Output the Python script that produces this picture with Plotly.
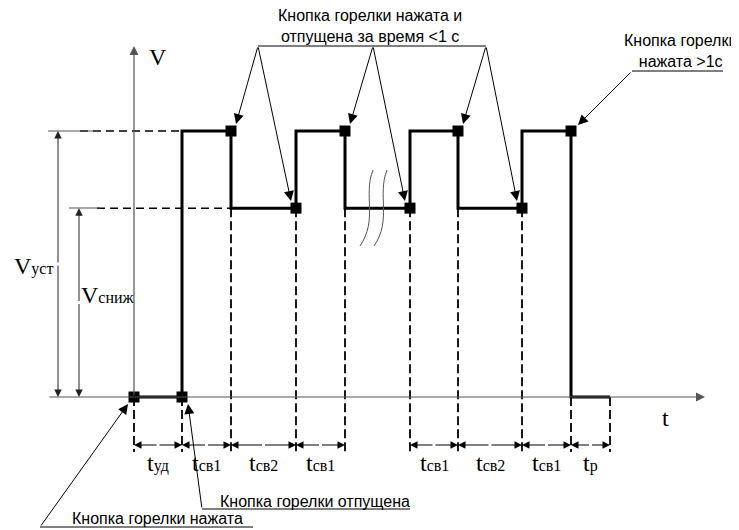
import plotly.graph_objects as go

# ---- diagram data -------------------------------------------------------
# time axis (arbitrary units, 0 = moment the torch button is pressed)
t_marks = [0, 48, 97, 162, 211, 276, 324, 388, 437, 476]
# voltage levels as a fraction of V_уст
V_UST = 1.0
V_SNIZH = 0.71
# level of the signal on each interval between consecutive t_marks
levels = [0, V_UST, V_SNIZH, V_UST, V_SNIZH, V_UST, V_SNIZH, V_UST, 0]
# event markers (black squares)
square_t = [0, 48, 97, 162, 211, 276, 324, 388, 437]
square_v = [0, 0, V_UST, V_SNIZH, V_UST, V_SNIZH, V_UST, V_SNIZH, V_UST]
# where each dashed projection line starts
dash_top = [0, 0, V_SNIZH, V_SNIZH, V_SNIZH, V_SNIZH, V_SNIZH, V_SNIZH, 0, 0]
# subscript of the interval labels (None = interval across the break)
interval_labels = ["уд", "св1", "св2", "св1", None, "св1", "св2", "св1", "р"]

# ---- canvas mapping (diagram units <-> page pixels) ---------------------
W, H = 739, 530
BODY = 8  # default page margin around the figure
PX0, PY0, KY = 134, 397, 266


def X(px):
    return px - PX0


def Y(py):
    return (PY0 - py) / KY


SERIF = "Liberation Serif"
SANS = "Liberation Sans"
BLACK = "#000000"
GRAY = "#555555"

fig = go.Figure()

# dashed projection lines
dx, dy = [], []
for t, v in zip(t_marks, dash_top):
    dx += [t, t, None]
    dy += [v, Y(452), None]
fig.add_trace(go.Scatter(x=dx, y=dy, mode="lines",
                         line=dict(color=BLACK, width=1.8, dash="9px,4px"),
                         hoverinfo="skip"))

# horizontal dashed projections of the two levels
fig.add_trace(go.Scatter(x=[X(80), t_marks[1], None, X(97), t_marks[2]],
                         y=[V_UST, V_UST, None, V_SNIZH, V_SNIZH],
                         mode="lines",
                         line=dict(color=BLACK, width=1.5, dash="8px,5px"),
                         hoverinfo="skip"))

# signal
fig.add_trace(go.Scatter(x=t_marks, y=levels + [levels[-1]], mode="lines",
                         line=dict(color=BLACK, width=3, shape="hv"),
                         hoverinfo="skip"))

# event squares
fig.add_trace(go.Scatter(x=square_t, y=square_v, mode="markers",
                         marker=dict(symbol="square", size=11, color=BLACK),
                         hoverinfo="skip"))

shapes = []


def seg(x0, y0, x1, y1, color=BLACK, width=1):
    shapes.append(dict(type="line", xref="x", yref="y",
                       x0=X(x0), y0=Y(y0), x1=X(x1), y1=Y(y1),
                       line=dict(color=color, width=width)))


# extension lines for the V dimensions
seg(48, 131, 100, 131, GRAY, 1)
seg(69, 208, 100, 208, GRAY, 1)

# leader lines (no heads)
seg(258, 46, 486, 46)
seg(632, 71, 723, 71)
seg(202, 509, 410, 509)
seg(40, 527, 253, 527)

# break symbol (two wavy lines)
for x0 in (373, 387):
    p = (f"M {X(x0)},{Y(170)} C {X(x0 - 10)},{Y(195)} {X(x0 + 5)},{Y(220)} "
         f"{X(x0 - 13)},{Y(246)}")
    shapes.append(dict(type="path", xref="x", yref="y", path=p,
                       line=dict(color=GRAY, width=1)))

annotations = []


def arrow(px_from, py_from, px_to, py_to, color=BLACK, width=1, size=1.6):
    annotations.append(dict(x=X(px_to), y=Y(py_to), ax=X(px_from), ay=Y(py_from),
                            xref="x", yref="y", axref="x", ayref="y",
                            text="", showarrow=True, arrowhead=2,
                            arrowsize=size, arrowwidth=width, arrowcolor=color,
                            standoff=0, startstandoff=0))


# axes
arrow(134, 397, 134, 46, GRAY, 1.2, 1.5)
arrow(48, 397, 705, 397, GRAY, 1.2, 1.5)

# V dimensions
for xv, lvl in ((58, V_UST), (79, V_SNIZH)):
    ytop = PY0 - lvl * KY
    mid = (ytop + PY0) / 2
    arrow(xv, mid, xv, ytop, "#222222", 1, 1.5)
    arrow(xv, mid, xv, PY0, "#222222", 1, 1.5)

# time dimensions
DIM_Y = 445
for i, lab in enumerate(interval_labels):
    if lab is None:
        continue
    a = PX0 + t_marks[i]
    b = PX0 + t_marks[i + 1]
    m = (a + b) / 2
    arrow(m, DIM_Y, a, DIM_Y, BLACK, 1, 1.5)
    arrow(m, DIM_Y, b, DIM_Y, BLACK, 1, 1.5)
    annotations.append(dict(
        x=X(m), y=Y(463), xref="x", yref="y", showarrow=False,
        text=f"t<span style='font-size:16px'>{lab}</span>",
        font=dict(family=SERIF, size=24, color=BLACK),
        xanchor="center", yanchor="middle"))

# leader arrows to the squares
for vx, (ta, tb) in zip((258, 373, 486), ((236, 291), (350, 405), (463, 517))):
    arrow(vx, 46, ta, 124, BLACK, 1, 2)
    arrow(vx, 46, tb, 201, BLACK, 1, 2)
arrow(632, 71, 578, 125, BLACK, 1, 2)
arrow(202, 509, 188, 404, BLACK, 1, 2)
arrow(40, 527, 128, 404, BLACK, 1, 2)


def label(px, py, text, family, size, xanchor="center", align="center"):
    annotations.append(dict(x=X(px), y=Y(py), xref="x", yref="y",
                            showarrow=False, text=text, align=align,
                            font=dict(family=family, size=size, color=BLACK),
                            xanchor=xanchor, yanchor="middle"))


label(158, 57, "V", SERIF, 24)
label(665, 418, "t", SERIF, 24)
label(33, 266, "V<span style='font-size:16px'>уст</span>", SERIF, 24)
label(108, 295, "V<span style='font-size:16px'>сниж</span>", SERIF, 24)

label(370, 26, "Кнопка горелки нажата и<br>отпущена за время &lt;1 с", SANS, 16)
label(680, 51, "Кнопка горелки<br>нажата &gt;1с", SANS, 16)
label(315, 501, "Кнопка горелки отпущена", SANS, 16)
label(157, 518, "Кнопка горелки нажата", SANS, 16)

# the page shows the figure offset by the body margin, so the figure covers
# page pixels BODY..W and BODY..H
fig.update_layout(
    width=W - BODY, height=H - BODY,
    margin=dict(l=0, r=0, t=0, b=0, autoexpand=False),
    paper_bgcolor="white", plot_bgcolor="white",
    showlegend=False,
    xaxis=dict(range=[X(BODY), X(W)], visible=False, fixedrange=True),
    yaxis=dict(range=[Y(H), Y(BODY)], visible=False, fixedrange=True),
    shapes=shapes, annotations=annotations,
)

fig.write_html("out.html")
